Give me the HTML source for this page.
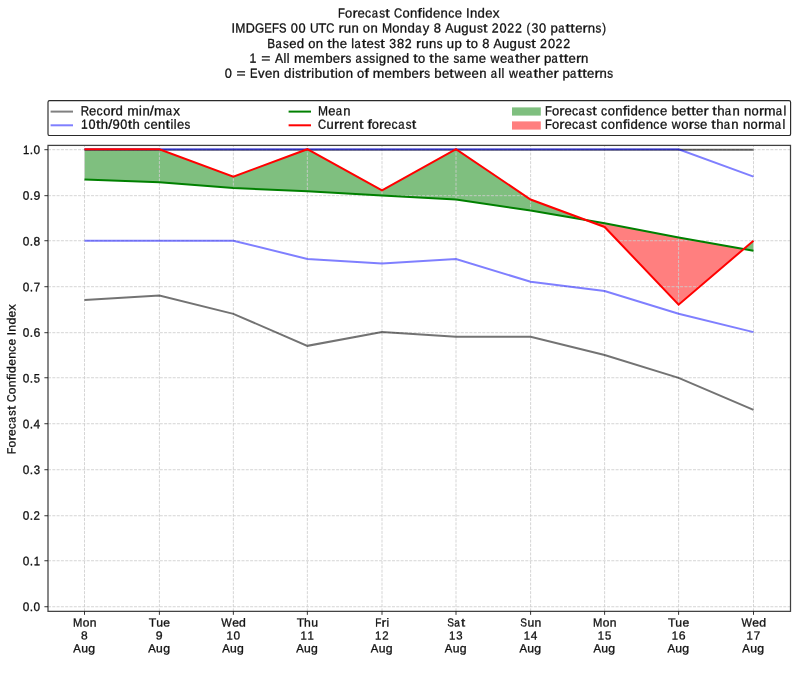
<!DOCTYPE html>
<html><head><meta charset="utf-8"><title>Forecast Confidence Index</title>
<style>
html,body{margin:0;padding:0;background:#fff;}
body{width:800px;height:676px;overflow:hidden;font-family:"Liberation Sans",sans-serif;}
svg{display:block;will-change:transform;}
text{font-family:"Liberation Sans",sans-serif;fill:#111;text-rendering:geometricPrecision;stroke:#111;stroke-width:0.3px;}
.t{font-size:13.1px;}
.k{font-size:12.0px;}
.kx{font-size:11.7px;}
.ky{font-size:12.2px;}
</style></head><body>
<svg width="800" height="676" viewBox="0 0 800 676">
<rect width="800" height="676" fill="#fff"/>
<g class="t" aria-label="Forecast Confidence Index"><text transform="translate(338 17.45) matrix(0.860 0.0006 0 1 0 0)">F</text><text transform="translate(345.06 17.45) matrix(0.986 0.0006 0 1 0 0)">o</text><text transform="translate(352.44 17.45) matrix(1.188 0.0006 0 1 0 0)">r</text><text transform="translate(357.47 17.45) matrix(1.002 0.0006 0 1 0 0)">e</text><text transform="translate(364.99 17.45) matrix(0.931 0.0006 0 1 0 0)">c</text><text transform="translate(371.68 17.45) matrix(0.860 0.0006 0 1 0 0)">a</text><text transform="translate(379.3 17.45) matrix(0.889 0.0006 0 1 0 0)">s</text><text transform="translate(385.37 17.45) matrix(1.240 0.0006 0 1 0 0)">t</text> <text transform="translate(394.03 17.45) matrix(0.861 0.0006 0 1 0 0)">C</text><text transform="translate(402.53 17.45) matrix(0.986 0.0006 0 1 0 0)">o</text><text transform="translate(410.07 17.45) matrix(1.000 0.0006 0 1 0 0)">n</text><text transform="translate(417.59 17.45) matrix(1.218 0.0006 0 1 0 0)">f</text><text transform="translate(422.13 17.45) matrix(0.948 0.0006 0 1 0 0)">i</text><text transform="translate(425.3 17.45) matrix(1.008 0.0006 0 1 0 0)">d</text><text transform="translate(433.01 17.45) matrix(1.002 0.0006 0 1 0 0)">e</text><text transform="translate(440.61 17.45) matrix(1.000 0.0006 0 1 0 0)">n</text><text transform="translate(448.23 17.45) matrix(0.931 0.0006 0 1 0 0)">c</text><text transform="translate(454.87 17.45) matrix(1.002 0.0006 0 1 0 0)">e</text> <text transform="translate(466.1 17.45) matrix(0.981 0.0006 0 1 0 0)">I</text><text transform="translate(469.91 17.45) matrix(1.000 0.0006 0 1 0 0)">n</text><text transform="translate(477.49 17.45) matrix(1.008 0.0006 0 1 0 0)">d</text><text transform="translate(485.2 17.45) matrix(1.002 0.0006 0 1 0 0)">e</text><text transform="translate(492.76 17.45) matrix(1.029 0.0006 0 1 0 0)">x</text></g>
<g class="t" aria-label="IMDGEFS 00 UTC run on Monday 8 August 2022 (30 patterns)"><text transform="translate(231.41 32.6) matrix(0.981 0.0006 0 1 0 0)">I</text><text transform="translate(235.19 32.6) matrix(0.925 0.0006 0 1 0 0)">M</text><text transform="translate(245.63 32.6) matrix(0.960 0.0006 0 1 0 0)">D</text><text transform="translate(254.91 32.6) matrix(0.905 0.0006 0 1 0 0)">G</text><text transform="translate(264.31 32.6) matrix(0.860 0.0006 0 1 0 0)">E</text><text transform="translate(271.98 32.6) matrix(0.860 0.0006 0 1 0 0)">F</text><text transform="translate(279.07 32.6) matrix(0.860 0.0006 0 1 0 0)">S</text> <text transform="translate(290.78 32.6) matrix(0.978 0.0006 0 1 0 0)">0</text><text transform="translate(298.51 32.6) matrix(0.978 0.0006 0 1 0 0)">0</text> <text transform="translate(309.94 32.6) matrix(0.912 0.0006 0 1 0 0)">U</text><text transform="translate(318.37 32.6) matrix(1.012 0.0006 0 1 0 0)">T</text><text transform="translate(326.23 32.6) matrix(0.861 0.0006 0 1 0 0)">C</text> <text transform="translate(338.54 32.6) matrix(1.188 0.0006 0 1 0 0)">r</text><text transform="translate(343.64 32.6) matrix(1.000 0.0006 0 1 0 0)">u</text><text transform="translate(351.4 32.6) matrix(1.000 0.0006 0 1 0 0)">n</text> <text transform="translate(362.85 32.6) matrix(0.986 0.0006 0 1 0 0)">o</text><text transform="translate(370.39 32.6) matrix(1.000 0.0006 0 1 0 0)">n</text> <text transform="translate(381.92 32.6) matrix(0.925 0.0006 0 1 0 0)">M</text><text transform="translate(392.33 32.6) matrix(0.986 0.0006 0 1 0 0)">o</text><text transform="translate(399.87 32.6) matrix(1.000 0.0006 0 1 0 0)">n</text><text transform="translate(407.45 32.6) matrix(1.008 0.0006 0 1 0 0)">d</text><text transform="translate(415.21 32.6) matrix(0.860 0.0006 0 1 0 0)">a</text><text transform="translate(422.83 32.6) matrix(0.996 0.0006 0 1 0 0)">y</text> <text transform="translate(433.81 32.6) matrix(0.988 0.0006 0 1 0 0)">8</text> <text transform="translate(445.21 32.6) matrix(0.934 0.0006 0 1 0 0)">A</text><text transform="translate(453.63 32.6) matrix(1.000 0.0006 0 1 0 0)">u</text><text transform="translate(461.27 32.6) matrix(1.008 0.0006 0 1 0 0)">g</text><text transform="translate(469.05 32.6) matrix(1.000 0.0006 0 1 0 0)">u</text><text transform="translate(476.9 32.6) matrix(0.889 0.0006 0 1 0 0)">s</text><text transform="translate(482.98 32.6) matrix(1.240 0.0006 0 1 0 0)">t</text> <text transform="translate(491.79 32.6) matrix(0.942 0.0006 0 1 0 0)">2</text><text transform="translate(499.55 32.6) matrix(0.978 0.0006 0 1 0 0)">0</text><text transform="translate(507.25 32.6) matrix(0.942 0.0006 0 1 0 0)">2</text><text transform="translate(514.98 32.6) matrix(0.942 0.0006 0 1 0 0)">2</text> <text transform="translate(526.52 32.6) matrix(0.860 0.0006 0 1 0 0)">(</text><text transform="translate(531.5 32.6) matrix(0.939 0.0006 0 1 0 0)">3</text><text transform="translate(539.08 32.6) matrix(0.978 0.0006 0 1 0 0)">0</text> <text transform="translate(550.62 32.6) matrix(1.009 0.0006 0 1 0 0)">p</text><text transform="translate(558.24 32.6) matrix(0.860 0.0006 0 1 0 0)">a</text><text transform="translate(565.61 32.6) matrix(1.240 0.0006 0 1 0 0)">t</text><text transform="translate(570.37 32.6) matrix(1.240 0.0006 0 1 0 0)">t</text><text transform="translate(575.17 32.6) matrix(1.002 0.0006 0 1 0 0)">e</text><text transform="translate(582.6 32.6) matrix(1.188 0.0006 0 1 0 0)">r</text><text transform="translate(587.76 32.6) matrix(1.000 0.0006 0 1 0 0)">n</text><text transform="translate(595.56 32.6) matrix(0.889 0.0006 0 1 0 0)">s</text><text transform="translate(602.33 32.6) matrix(0.860 0.0006 0 1 0 0)">)</text></g>
<g class="t" aria-label="Based on the latest 382 runs up to 8 August 2022"><text transform="translate(267.15 47.95) matrix(0.901 0.0006 0 1 0 0)">B</text><text transform="translate(275.43 47.95) matrix(0.860 0.0006 0 1 0 0)">a</text><text transform="translate(283.04 47.95) matrix(0.889 0.0006 0 1 0 0)">s</text><text transform="translate(289.15 47.95) matrix(1.002 0.0006 0 1 0 0)">e</text><text transform="translate(296.63 47.95) matrix(1.008 0.0006 0 1 0 0)">d</text> <text transform="translate(308.22 47.95) matrix(0.986 0.0006 0 1 0 0)">o</text><text transform="translate(315.76 47.95) matrix(1.000 0.0006 0 1 0 0)">n</text> <text transform="translate(327.16 47.95) matrix(1.240 0.0006 0 1 0 0)">t</text><text transform="translate(332.04 47.95) matrix(1.007 0.0006 0 1 0 0)">h</text><text transform="translate(339.66 47.95) matrix(1.002 0.0006 0 1 0 0)">e</text> <text transform="translate(351.19 47.95) matrix(0.948 0.0006 0 1 0 0)">l</text><text transform="translate(354.43 47.95) matrix(0.860 0.0006 0 1 0 0)">a</text><text transform="translate(361.79 47.95) matrix(1.240 0.0006 0 1 0 0)">t</text><text transform="translate(366.58 47.95) matrix(1.002 0.0006 0 1 0 0)">e</text><text transform="translate(374.28 47.95) matrix(0.889 0.0006 0 1 0 0)">s</text><text transform="translate(380.36 47.95) matrix(1.240 0.0006 0 1 0 0)">t</text> <text transform="translate(389.36 47.95) matrix(0.939 0.0006 0 1 0 0)">3</text><text transform="translate(396.89 47.95) matrix(0.988 0.0006 0 1 0 0)">8</text><text transform="translate(404.63 47.95) matrix(0.942 0.0006 0 1 0 0)">2</text> <text transform="translate(416.02 47.95) matrix(1.188 0.0006 0 1 0 0)">r</text><text transform="translate(421.13 47.95) matrix(1.000 0.0006 0 1 0 0)">u</text><text transform="translate(428.88 47.95) matrix(1.000 0.0006 0 1 0 0)">n</text><text transform="translate(436.69 47.95) matrix(0.889 0.0006 0 1 0 0)">s</text> <text transform="translate(446.73 47.95) matrix(1.000 0.0006 0 1 0 0)">u</text><text transform="translate(454.5 47.95) matrix(1.009 0.0006 0 1 0 0)">p</text> <text transform="translate(465.9 47.95) matrix(1.240 0.0006 0 1 0 0)">t</text><text transform="translate(470.71 47.95) matrix(0.986 0.0006 0 1 0 0)">o</text> <text transform="translate(482.14 47.95) matrix(0.988 0.0006 0 1 0 0)">8</text> <text transform="translate(493.54 47.95) matrix(0.934 0.0006 0 1 0 0)">A</text><text transform="translate(501.96 47.95) matrix(1.000 0.0006 0 1 0 0)">u</text><text transform="translate(509.6 47.95) matrix(1.008 0.0006 0 1 0 0)">g</text><text transform="translate(517.38 47.95) matrix(1.000 0.0006 0 1 0 0)">u</text><text transform="translate(525.23 47.95) matrix(0.889 0.0006 0 1 0 0)">s</text><text transform="translate(531.31 47.95) matrix(1.240 0.0006 0 1 0 0)">t</text> <text transform="translate(540.12 47.95) matrix(0.942 0.0006 0 1 0 0)">2</text><text transform="translate(547.88 47.95) matrix(0.978 0.0006 0 1 0 0)">0</text><text transform="translate(555.58 47.95) matrix(0.942 0.0006 0 1 0 0)">2</text><text transform="translate(563.31 47.95) matrix(0.942 0.0006 0 1 0 0)">2</text></g>
<g class="t" aria-label="1 = All members assigned to the same weather pattern"><text transform="translate(249.58 62.65) matrix(0.934 0.0006 0 1 0 0)">1</text> <text transform="translate(261.29 62.65) matrix(1.195 0.0006 0 1 0 0)">=</text> <text transform="translate(274.88 62.65) matrix(0.934 0.0006 0 1 0 0)">A</text><text transform="translate(283.43 62.65) matrix(0.948 0.0006 0 1 0 0)">l</text><text transform="translate(286.81 62.65) matrix(0.948 0.0006 0 1 0 0)">l</text> <text transform="translate(293.92 62.65) matrix(1.057 0.0006 0 1 0 0)">m</text><text transform="translate(305.69 62.65) matrix(1.002 0.0006 0 1 0 0)">e</text><text transform="translate(313.23 62.65) matrix(1.057 0.0006 0 1 0 0)">m</text><text transform="translate(325.13 62.65) matrix(1.009 0.0006 0 1 0 0)">b</text><text transform="translate(332.71 62.65) matrix(1.002 0.0006 0 1 0 0)">e</text><text transform="translate(340.14 62.65) matrix(1.188 0.0006 0 1 0 0)">r</text><text transform="translate(345.4 62.65) matrix(0.889 0.0006 0 1 0 0)">s</text> <text transform="translate(355.42 62.65) matrix(0.860 0.0006 0 1 0 0)">a</text><text transform="translate(363.04 62.65) matrix(0.889 0.0006 0 1 0 0)">s</text><text transform="translate(369.37 62.65) matrix(0.889 0.0006 0 1 0 0)">s</text><text transform="translate(375.68 62.65) matrix(0.948 0.0006 0 1 0 0)">i</text><text transform="translate(378.86 62.65) matrix(1.008 0.0006 0 1 0 0)">g</text><text transform="translate(386.69 62.65) matrix(1.000 0.0006 0 1 0 0)">n</text><text transform="translate(394.27 62.65) matrix(1.002 0.0006 0 1 0 0)">e</text><text transform="translate(401.74 62.65) matrix(1.008 0.0006 0 1 0 0)">d</text> <text transform="translate(413.28 62.65) matrix(1.240 0.0006 0 1 0 0)">t</text><text transform="translate(418.09 62.65) matrix(0.986 0.0006 0 1 0 0)">o</text> <text transform="translate(429.34 62.65) matrix(1.240 0.0006 0 1 0 0)">t</text><text transform="translate(434.21 62.65) matrix(1.007 0.0006 0 1 0 0)">h</text><text transform="translate(441.84 62.65) matrix(1.002 0.0006 0 1 0 0)">e</text> <text transform="translate(453.4 62.65) matrix(0.889 0.0006 0 1 0 0)">s</text><text transform="translate(459.56 62.65) matrix(0.860 0.0006 0 1 0 0)">a</text><text transform="translate(467.02 62.65) matrix(1.057 0.0006 0 1 0 0)">m</text><text transform="translate(478.79 62.65) matrix(1.002 0.0006 0 1 0 0)">e</text> <text transform="translate(490.54 62.65) matrix(0.937 0.0006 0 1 0 0)">w</text><text transform="translate(500.06 62.65) matrix(1.002 0.0006 0 1 0 0)">e</text><text transform="translate(507.59 62.65) matrix(0.860 0.0006 0 1 0 0)">a</text><text transform="translate(514.95 62.65) matrix(1.240 0.0006 0 1 0 0)">t</text><text transform="translate(519.82 62.65) matrix(1.007 0.0006 0 1 0 0)">h</text><text transform="translate(527.45 62.65) matrix(1.002 0.0006 0 1 0 0)">e</text><text transform="translate(534.88 62.65) matrix(1.188 0.0006 0 1 0 0)">r</text> <text transform="translate(543.92 62.65) matrix(1.009 0.0006 0 1 0 0)">p</text><text transform="translate(551.54 62.65) matrix(0.860 0.0006 0 1 0 0)">a</text><text transform="translate(558.9 62.65) matrix(1.240 0.0006 0 1 0 0)">t</text><text transform="translate(563.67 62.65) matrix(1.240 0.0006 0 1 0 0)">t</text><text transform="translate(568.46 62.65) matrix(1.002 0.0006 0 1 0 0)">e</text><text transform="translate(575.9 62.65) matrix(1.188 0.0006 0 1 0 0)">r</text><text transform="translate(581.06 62.65) matrix(1.000 0.0006 0 1 0 0)">n</text></g>
<g class="t" aria-label="0 = Even distribution of members between all weather patterns"><text transform="translate(224.63 77.85) matrix(0.978 0.0006 0 1 0 0)">0</text> <text transform="translate(236.45 77.85) matrix(1.195 0.0006 0 1 0 0)">=</text> <text transform="translate(250.04 77.85) matrix(0.860 0.0006 0 1 0 0)">E</text><text transform="translate(257.96 77.85) matrix(1.001 0.0006 0 1 0 0)">v</text><text transform="translate(264.95 77.85) matrix(1.002 0.0006 0 1 0 0)">e</text><text transform="translate(272.54 77.85) matrix(1.000 0.0006 0 1 0 0)">n</text> <text transform="translate(283.99 77.85) matrix(1.008 0.0006 0 1 0 0)">d</text><text transform="translate(291.9 77.85) matrix(0.948 0.0006 0 1 0 0)">i</text><text transform="translate(295.29 77.85) matrix(0.889 0.0006 0 1 0 0)">s</text><text transform="translate(301.37 77.85) matrix(1.240 0.0006 0 1 0 0)">t</text><text transform="translate(306.12 77.85) matrix(1.188 0.0006 0 1 0 0)">r</text><text transform="translate(311.36 77.85) matrix(0.948 0.0006 0 1 0 0)">i</text><text transform="translate(314.68 77.85) matrix(1.009 0.0006 0 1 0 0)">b</text><text transform="translate(322.32 77.85) matrix(1.000 0.0006 0 1 0 0)">u</text><text transform="translate(329.92 77.85) matrix(1.240 0.0006 0 1 0 0)">t</text><text transform="translate(334.92 77.85) matrix(0.948 0.0006 0 1 0 0)">i</text><text transform="translate(338.1 77.85) matrix(0.986 0.0006 0 1 0 0)">o</text><text transform="translate(345.64 77.85) matrix(1.000 0.0006 0 1 0 0)">n</text> <text transform="translate(357.1 77.85) matrix(0.986 0.0006 0 1 0 0)">o</text><text transform="translate(364.46 77.85) matrix(1.218 0.0006 0 1 0 0)">f</text> <text transform="translate(372.73 77.85) matrix(1.057 0.0006 0 1 0 0)">m</text><text transform="translate(384.49 77.85) matrix(1.002 0.0006 0 1 0 0)">e</text><text transform="translate(392.04 77.85) matrix(1.057 0.0006 0 1 0 0)">m</text><text transform="translate(403.94 77.85) matrix(1.009 0.0006 0 1 0 0)">b</text><text transform="translate(411.52 77.85) matrix(1.002 0.0006 0 1 0 0)">e</text><text transform="translate(418.95 77.85) matrix(1.188 0.0006 0 1 0 0)">r</text><text transform="translate(424.21 77.85) matrix(0.889 0.0006 0 1 0 0)">s</text> <text transform="translate(434.32 77.85) matrix(1.009 0.0006 0 1 0 0)">b</text><text transform="translate(441.89 77.85) matrix(1.002 0.0006 0 1 0 0)">e</text><text transform="translate(449.34 77.85) matrix(1.240 0.0006 0 1 0 0)">t</text><text transform="translate(454.55 77.85) matrix(0.937 0.0006 0 1 0 0)">w</text><text transform="translate(464.07 77.85) matrix(1.002 0.0006 0 1 0 0)">e</text><text transform="translate(471.54 77.85) matrix(1.002 0.0006 0 1 0 0)">e</text><text transform="translate(479.14 77.85) matrix(1.000 0.0006 0 1 0 0)">n</text> <text transform="translate(490.63 77.85) matrix(0.860 0.0006 0 1 0 0)">a</text><text transform="translate(498.22 77.85) matrix(0.948 0.0006 0 1 0 0)">l</text><text transform="translate(501.6 77.85) matrix(0.948 0.0006 0 1 0 0)">l</text> <text transform="translate(509.06 77.85) matrix(0.937 0.0006 0 1 0 0)">w</text><text transform="translate(518.58 77.85) matrix(1.002 0.0006 0 1 0 0)">e</text><text transform="translate(526.1 77.85) matrix(0.860 0.0006 0 1 0 0)">a</text><text transform="translate(533.47 77.85) matrix(1.240 0.0006 0 1 0 0)">t</text><text transform="translate(538.34 77.85) matrix(1.007 0.0006 0 1 0 0)">h</text><text transform="translate(545.96 77.85) matrix(1.002 0.0006 0 1 0 0)">e</text><text transform="translate(553.39 77.85) matrix(1.188 0.0006 0 1 0 0)">r</text> <text transform="translate(562.43 77.85) matrix(1.009 0.0006 0 1 0 0)">p</text><text transform="translate(570.06 77.85) matrix(0.860 0.0006 0 1 0 0)">a</text><text transform="translate(577.42 77.85) matrix(1.240 0.0006 0 1 0 0)">t</text><text transform="translate(582.18 77.85) matrix(1.240 0.0006 0 1 0 0)">t</text><text transform="translate(586.98 77.85) matrix(1.002 0.0006 0 1 0 0)">e</text><text transform="translate(594.41 77.85) matrix(1.188 0.0006 0 1 0 0)">r</text><text transform="translate(599.57 77.85) matrix(1.000 0.0006 0 1 0 0)">n</text><text transform="translate(607.37 77.85) matrix(0.889 0.0006 0 1 0 0)">s</text></g>
<path d="M84.5 149.2 L159.4 149.2 L159.4 182.13 L84.5 179.38Z M159.4 149.2 L233.35 176.64 L233.35 188.07 L159.4 182.13Z M233.35 176.64 L307.35 149.2 L307.35 191.27 L233.35 188.07Z M307.35 149.2 L382 190.36 L382 195.39 L307.35 191.27Z M382 190.36 L456 149.2 L456 199.5 L382 195.39Z M456 149.2 L530.6 199.5 L530.6 210.48 L456 199.5Z M530.6 199.5 L586.1 220.08 L530.6 210.48Z M743.75 248.99 L753.5 240.66 L753.5 250.72Z" fill="#7fbf7f"/>
<path d="M586.1 220.08 L604.6 226.94 L604.6 223.28Z M604.6 226.94 L678.6 304.68 L678.6 237.46 L604.6 223.28Z M678.6 304.68 L743.75 248.99 L678.6 237.46Z" fill="#ff7f7f"/>
<g stroke="#cdcdcd" stroke-width="0.85" stroke-dasharray="3 1.3" fill="none">
<path d="M84.5 611.35 V145.4"/>
<path d="M159.4 611.35 V145.4"/>
<path d="M233.35 611.35 V145.4"/>
<path d="M307.35 611.35 V145.4"/>
<path d="M382 611.35 V145.4"/>
<path d="M456 611.35 V145.4"/>
<path d="M530.6 611.35 V145.4"/>
<path d="M604.6 611.35 V145.4"/>
<path d="M678.6 611.35 V145.4"/>
<path d="M753.5 611.35 V145.4"/>
<path d="M48 606.74 H790.5"/>
<path d="M48 560.75 H790.5"/>
<path d="M48 515.75 H790.5"/>
<path d="M48 469.72 H790.5"/>
<path d="M48 423.73 H790.5"/>
<path d="M48 377.75 H790.5"/>
<path d="M48 332.7 H790.5"/>
<path d="M48 286.71 H790.5"/>
<path d="M48 240.73 H790.5"/>
<path d="M48 195.68 H790.5"/>
<path d="M48 149.69 H790.5"/>
</g>
<g fill="none" stroke-linejoin="miter" stroke-linecap="butt" stroke-width="2.0">
<polyline points="84.5,300.11 159.4,295.54 233.35,313.83 307.35,345.84 382,332.12 456,336.69 530.6,336.69 604.6,354.99 678.6,377.85 753.5,409.86" stroke="#000" stroke-opacity="0.55"/>
<path d="M84.5 149.69 H753.5" stroke="#000" stroke-opacity="0.6"/>
<polyline points="84.5,240.66 159.4,240.66 233.35,240.66 307.35,258.95 382,263.52 456,258.95 530.6,281.82 604.6,290.96 678.6,313.83 753.5,332.12" stroke="#0000ff" stroke-opacity="0.5"/>
<polyline points="84.5,149.2 159.4,149.2 233.35,149.2 307.35,149.2 382,149.2 456,149.2 530.6,149.2 604.6,149.2 678.6,149.2 753.5,176.64" stroke="#0000ff" stroke-opacity="0.5"/>
<polyline points="84.5,179.38 159.4,182.13 233.35,188.07 307.35,191.27 382,195.39 456,199.5 530.6,210.48 604.6,223.28 678.6,237.46 753.5,250.72" stroke="#008000"/>
<polyline points="84.5,149.2 159.4,149.2 233.35,176.64 307.35,149.2 382,190.36 456,149.2 530.6,199.5 604.6,226.94 678.6,304.68 753.5,240.66" stroke="#ff0000"/>
</g>
<rect x="48" y="145.4" width="742.5" height="465.95" fill="none" stroke="#404040" stroke-width="1.25"/>
<g stroke="#111" stroke-width="0.85">
<path d="M84.5 611.35 v3.5"/>
<path d="M159.4 611.35 v3.5"/>
<path d="M233.35 611.35 v3.5"/>
<path d="M307.35 611.35 v3.5"/>
<path d="M382 611.35 v3.5"/>
<path d="M456 611.35 v3.5"/>
<path d="M530.6 611.35 v3.5"/>
<path d="M604.6 611.35 v3.5"/>
<path d="M678.6 611.35 v3.5"/>
<path d="M753.5 611.35 v3.5"/>
<path d="M48 606.74 h-3.6"/>
<path d="M48 560.75 h-3.6"/>
<path d="M48 515.75 h-3.6"/>
<path d="M48 469.72 h-3.6"/>
<path d="M48 423.73 h-3.6"/>
<path d="M48 377.75 h-3.6"/>
<path d="M48 332.7 h-3.6"/>
<path d="M48 286.71 h-3.6"/>
<path d="M48 240.73 h-3.6"/>
<path d="M48 195.68 h-3.6"/>
<path d="M48 149.69 h-3.6"/>
</g>
<g class="ky" aria-label="0.0"><text transform="translate(22.86 611.05) matrix(0.974 0.0006 0 1 0 0)">0</text><text transform="translate(29.84 611.05) matrix(1.000 0.0006 0 1 0 0)">.</text><text transform="translate(33.61 611.05) matrix(0.974 0.0006 0 1 0 0)">0</text></g>
<g class="ky" aria-label="0.1"><text transform="translate(22.86 565.35) matrix(0.974 0.0006 0 1 0 0)">0</text><text transform="translate(29.84 565.35) matrix(1.000 0.0006 0 1 0 0)">.</text><text transform="translate(33.7 565.35) matrix(0.930 0.0006 0 1 0 0)">1</text></g>
<g class="ky" aria-label="0.2"><text transform="translate(22.86 519.65) matrix(0.974 0.0006 0 1 0 0)">0</text><text transform="translate(29.84 519.65) matrix(1.000 0.0006 0 1 0 0)">.</text><text transform="translate(33.58 519.65) matrix(0.939 0.0006 0 1 0 0)">2</text></g>
<g class="ky" aria-label="0.3"><text transform="translate(22.86 473.95) matrix(0.974 0.0006 0 1 0 0)">0</text><text transform="translate(29.84 473.95) matrix(1.000 0.0006 0 1 0 0)">.</text><text transform="translate(33.75 473.95) matrix(0.935 0.0006 0 1 0 0)">3</text></g>
<g class="ky" aria-label="0.4"><text transform="translate(22.86 428.25) matrix(0.974 0.0006 0 1 0 0)">0</text><text transform="translate(29.84 428.25) matrix(1.000 0.0006 0 1 0 0)">.</text><text transform="translate(33.61 428.25) matrix(0.974 0.0006 0 1 0 0)">4</text></g>
<g class="ky" aria-label="0.5"><text transform="translate(22.86 382.55) matrix(0.974 0.0006 0 1 0 0)">0</text><text transform="translate(29.84 382.55) matrix(1.000 0.0006 0 1 0 0)">.</text><text transform="translate(33.75 382.55) matrix(0.919 0.0006 0 1 0 0)">5</text></g>
<g class="ky" aria-label="0.6"><text transform="translate(22.86 336.85) matrix(0.974 0.0006 0 1 0 0)">0</text><text transform="translate(29.84 336.85) matrix(1.000 0.0006 0 1 0 0)">.</text><text transform="translate(33.49 336.85) matrix(1.008 0.0006 0 1 0 0)">6</text></g>
<g class="ky" aria-label="0.7"><text transform="translate(22.86 291.15) matrix(0.974 0.0006 0 1 0 0)">0</text><text transform="translate(29.84 291.15) matrix(1.000 0.0006 0 1 0 0)">.</text><text transform="translate(33.66 291.15) matrix(0.953 0.0006 0 1 0 0)">7</text></g>
<g class="ky" aria-label="0.8"><text transform="translate(22.86 245.45) matrix(0.974 0.0006 0 1 0 0)">0</text><text transform="translate(29.84 245.45) matrix(1.000 0.0006 0 1 0 0)">.</text><text transform="translate(33.57 245.45) matrix(0.984 0.0006 0 1 0 0)">8</text></g>
<g class="ky" aria-label="0.9"><text transform="translate(22.86 199.75) matrix(0.974 0.0006 0 1 0 0)">0</text><text transform="translate(29.84 199.75) matrix(1.000 0.0006 0 1 0 0)">.</text><text transform="translate(33.46 199.75) matrix(1.006 0.0006 0 1 0 0)">9</text></g>
<g class="ky" aria-label="1.0"><text transform="translate(22.95 154.05) matrix(0.930 0.0006 0 1 0 0)">1</text><text transform="translate(29.84 154.05) matrix(1.000 0.0006 0 1 0 0)">.</text><text transform="translate(33.61 154.05) matrix(0.974 0.0006 0 1 0 0)">0</text></g>
<g class="k" aria-label="Forecast Confidence Index"><text transform="translate(15.5 453.95) matrix(0.0006 -0.860 1 0 0 0)">F</text><text transform="translate(15.5 447.45) matrix(0.0006 -0.998 1 0 0 0)">o</text><text transform="translate(15.5 440.6) matrix(0.0006 -1.203 1 0 0 0)">r</text><text transform="translate(15.5 435.93) matrix(0.0006 -1.014 1 0 0 0)">e</text><text transform="translate(15.5 428.96) matrix(0.0006 -0.942 1 0 0 0)">c</text><text transform="translate(15.5 422.71) matrix(0.0006 -0.860 1 0 0 0)">a</text><text transform="translate(15.5 415.69) matrix(0.0006 -0.900 1 0 0 0)">s</text><text transform="translate(15.5 410.05) matrix(0.0006 -1.255 1 0 0 0)">t</text> <text transform="translate(15.5 402.02) matrix(0.0006 -0.872 1 0 0 0)">C</text><text transform="translate(15.5 394.14) matrix(0.0006 -0.998 1 0 0 0)">o</text><text transform="translate(15.5 387.15) matrix(0.0006 -1.013 1 0 0 0)">n</text><text transform="translate(15.5 380.17) matrix(0.0006 -1.233 1 0 0 0)">f</text><text transform="translate(15.5 375.96) matrix(0.0006 -0.960 1 0 0 0)">i</text><text transform="translate(15.5 373.01) matrix(0.0006 -1.021 1 0 0 0)">d</text><text transform="translate(15.5 365.86) matrix(0.0006 -1.014 1 0 0 0)">e</text><text transform="translate(15.5 358.82) matrix(0.0006 -1.013 1 0 0 0)">n</text><text transform="translate(15.5 351.75) matrix(0.0006 -0.942 1 0 0 0)">c</text><text transform="translate(15.5 345.59) matrix(0.0006 -1.014 1 0 0 0)">e</text> <text transform="translate(15.5 335.17) matrix(0.0006 -0.993 1 0 0 0)">I</text><text transform="translate(15.5 331.64) matrix(0.0006 -1.013 1 0 0 0)">n</text><text transform="translate(15.5 324.6) matrix(0.0006 -1.021 1 0 0 0)">d</text><text transform="translate(15.5 317.45) matrix(0.0006 -1.014 1 0 0 0)">e</text><text transform="translate(15.5 310.44) matrix(0.0006 -1.042 1 0 0 0)">x</text></g>
<g class="kx" aria-label="Mon"><text transform="translate(73 626.45) matrix(0.960 0.0006 0 1 0 0)">M</text><text transform="translate(82.66 626.45) matrix(1.024 0.0006 0 1 0 0)">o</text><text transform="translate(89.65 626.45) matrix(1.039 0.0006 0 1 0 0)">n</text></g>
<g class="kx" aria-label="8"><text transform="translate(81.06 639.4) matrix(1.026 0.0006 0 1 0 0)">8</text></g>
<g class="kx" aria-label="Aug"><text transform="translate(73.36 652.3) matrix(0.970 0.0006 0 1 0 0)">A</text><text transform="translate(81.17 652.3) matrix(1.039 0.0006 0 1 0 0)">u</text><text transform="translate(88.26 652.3) matrix(1.047 0.0006 0 1 0 0)">g</text></g>
<g class="kx" aria-label="Tue"><text transform="translate(148.81 626.45) matrix(1.051 0.0006 0 1 0 0)">T</text><text transform="translate(156.17 626.45) matrix(1.039 0.0006 0 1 0 0)">u</text><text transform="translate(163.25 626.45) matrix(1.040 0.0006 0 1 0 0)">e</text></g>
<g class="kx" aria-label="9"><text transform="translate(155.85 639.4) matrix(1.049 0.0006 0 1 0 0)">9</text></g>
<g class="kx" aria-label="Aug"><text transform="translate(148.26 652.3) matrix(0.970 0.0006 0 1 0 0)">A</text><text transform="translate(156.07 652.3) matrix(1.039 0.0006 0 1 0 0)">u</text><text transform="translate(163.16 652.3) matrix(1.047 0.0006 0 1 0 0)">g</text></g>
<g class="kx" aria-label="Wed"><text transform="translate(221.26 626.45) matrix(0.950 0.0006 0 1 0 0)">W</text><text transform="translate(232.18 626.45) matrix(1.040 0.0006 0 1 0 0)">e</text><text transform="translate(239.12 626.45) matrix(1.047 0.0006 0 1 0 0)">d</text></g>
<g class="kx" aria-label="10"><text transform="translate(226.45 639.4) matrix(0.970 0.0006 0 1 0 0)">1</text><text transform="translate(233.53 639.4) matrix(1.015 0.0006 0 1 0 0)">0</text></g>
<g class="kx" aria-label="Aug"><text transform="translate(222.21 652.3) matrix(0.970 0.0006 0 1 0 0)">A</text><text transform="translate(230.02 652.3) matrix(1.039 0.0006 0 1 0 0)">u</text><text transform="translate(237.11 652.3) matrix(1.047 0.0006 0 1 0 0)">g</text></g>
<g class="kx" aria-label="Thu"><text transform="translate(296.66 626.45) matrix(1.051 0.0006 0 1 0 0)">T</text><text transform="translate(304.02 626.45) matrix(1.046 0.0006 0 1 0 0)">h</text><text transform="translate(311.16 626.45) matrix(1.039 0.0006 0 1 0 0)">u</text></g>
<g class="kx" aria-label="11"><text transform="translate(300.45 639.4) matrix(0.970 0.0006 0 1 0 0)">1</text><text transform="translate(307.62 639.4) matrix(0.970 0.0006 0 1 0 0)">1</text></g>
<g class="kx" aria-label="Aug"><text transform="translate(296.21 652.3) matrix(0.970 0.0006 0 1 0 0)">A</text><text transform="translate(304.02 652.3) matrix(1.039 0.0006 0 1 0 0)">u</text><text transform="translate(311.11 652.3) matrix(1.047 0.0006 0 1 0 0)">g</text></g>
<g class="kx" aria-label="Fri"><text transform="translate(375.26 626.45) matrix(0.860 0.0006 0 1 0 0)">F</text><text transform="translate(381.62 626.45) matrix(1.234 0.0006 0 1 0 0)">r</text><text transform="translate(386.48 626.45) matrix(0.985 0.0006 0 1 0 0)">i</text></g>
<g class="kx" aria-label="12"><text transform="translate(375.1 639.4) matrix(0.970 0.0006 0 1 0 0)">1</text><text transform="translate(382.15 639.4) matrix(0.979 0.0006 0 1 0 0)">2</text></g>
<g class="kx" aria-label="Aug"><text transform="translate(370.86 652.3) matrix(0.970 0.0006 0 1 0 0)">A</text><text transform="translate(378.67 652.3) matrix(1.039 0.0006 0 1 0 0)">u</text><text transform="translate(385.76 652.3) matrix(1.047 0.0006 0 1 0 0)">g</text></g>
<g class="kx" aria-label="Sat"><text transform="translate(447.24 626.45) matrix(0.860 0.0006 0 1 0 0)">S</text><text transform="translate(454.36 626.45) matrix(0.866 0.0006 0 1 0 0)">a</text><text transform="translate(461.1 626.45) matrix(1.287 0.0006 0 1 0 0)">t</text></g>
<g class="kx" aria-label="13"><text transform="translate(449.1 639.4) matrix(0.970 0.0006 0 1 0 0)">1</text><text transform="translate(456.32 639.4) matrix(0.975 0.0006 0 1 0 0)">3</text></g>
<g class="kx" aria-label="Aug"><text transform="translate(444.86 652.3) matrix(0.970 0.0006 0 1 0 0)">A</text><text transform="translate(452.67 652.3) matrix(1.039 0.0006 0 1 0 0)">u</text><text transform="translate(459.76 652.3) matrix(1.047 0.0006 0 1 0 0)">g</text></g>
<g class="kx" aria-label="Sun"><text transform="translate(520.36 626.45) matrix(0.860 0.0006 0 1 0 0)">S</text><text transform="translate(527.4 626.45) matrix(1.039 0.0006 0 1 0 0)">u</text><text transform="translate(534.59 626.45) matrix(1.039 0.0006 0 1 0 0)">n</text></g>
<g class="kx" aria-label="14"><text transform="translate(523.7 639.4) matrix(0.970 0.0006 0 1 0 0)">1</text><text transform="translate(530.78 639.4) matrix(1.016 0.0006 0 1 0 0)">4</text></g>
<g class="kx" aria-label="Aug"><text transform="translate(519.46 652.3) matrix(0.970 0.0006 0 1 0 0)">A</text><text transform="translate(527.27 652.3) matrix(1.039 0.0006 0 1 0 0)">u</text><text transform="translate(534.36 652.3) matrix(1.047 0.0006 0 1 0 0)">g</text></g>
<g class="kx" aria-label="Mon"><text transform="translate(593.1 626.45) matrix(0.960 0.0006 0 1 0 0)">M</text><text transform="translate(602.76 626.45) matrix(1.024 0.0006 0 1 0 0)">o</text><text transform="translate(609.75 626.45) matrix(1.039 0.0006 0 1 0 0)">n</text></g>
<g class="kx" aria-label="15"><text transform="translate(597.7 639.4) matrix(0.970 0.0006 0 1 0 0)">1</text><text transform="translate(604.92 639.4) matrix(0.958 0.0006 0 1 0 0)">5</text></g>
<g class="kx" aria-label="Aug"><text transform="translate(593.46 652.3) matrix(0.970 0.0006 0 1 0 0)">A</text><text transform="translate(601.27 652.3) matrix(1.039 0.0006 0 1 0 0)">u</text><text transform="translate(608.36 652.3) matrix(1.047 0.0006 0 1 0 0)">g</text></g>
<g class="kx" aria-label="Tue"><text transform="translate(668.01 626.45) matrix(1.051 0.0006 0 1 0 0)">T</text><text transform="translate(675.37 626.45) matrix(1.039 0.0006 0 1 0 0)">u</text><text transform="translate(682.45 626.45) matrix(1.040 0.0006 0 1 0 0)">e</text></g>
<g class="kx" aria-label="16"><text transform="translate(671.7 639.4) matrix(0.970 0.0006 0 1 0 0)">1</text><text transform="translate(678.66 639.4) matrix(1.051 0.0006 0 1 0 0)">6</text></g>
<g class="kx" aria-label="Aug"><text transform="translate(667.46 652.3) matrix(0.970 0.0006 0 1 0 0)">A</text><text transform="translate(675.27 652.3) matrix(1.039 0.0006 0 1 0 0)">u</text><text transform="translate(682.36 652.3) matrix(1.047 0.0006 0 1 0 0)">g</text></g>
<g class="kx" aria-label="Wed"><text transform="translate(741.41 626.45) matrix(0.950 0.0006 0 1 0 0)">W</text><text transform="translate(752.33 626.45) matrix(1.040 0.0006 0 1 0 0)">e</text><text transform="translate(759.27 626.45) matrix(1.047 0.0006 0 1 0 0)">d</text></g>
<g class="kx" aria-label="17"><text transform="translate(746.6 639.4) matrix(0.970 0.0006 0 1 0 0)">1</text><text transform="translate(753.73 639.4) matrix(0.993 0.0006 0 1 0 0)">7</text></g>
<g class="kx" aria-label="Aug"><text transform="translate(742.36 652.3) matrix(0.970 0.0006 0 1 0 0)">A</text><text transform="translate(750.17 652.3) matrix(1.039 0.0006 0 1 0 0)">u</text><text transform="translate(757.26 652.3) matrix(1.047 0.0006 0 1 0 0)">g</text></g>
<rect x="48" y="100.6" width="742.6" height="34.9" rx="1.6" fill="#fff" stroke="#2a2a2a" stroke-width="1.15"/>
<g fill="none" stroke-width="2">
<path d="M50.6 111.6 H73" stroke="#808080"/>
<path d="M50.6 125.3 H73" stroke="#0000ff" stroke-opacity="0.5"/>
<path d="M288.6 111.6 H311" stroke="#008000"/>
<path d="M288.6 125.3 H311" stroke="#ff0000"/>
</g>
<rect x="512" y="107.4" width="28.8" height="8.2" fill="#7fbf7f"/>
<rect x="512" y="121.4" width="28.8" height="8.2" fill="#ff7f7f"/>
<g class="t" aria-label="Record min/max"><text transform="translate(80.84 115.2) matrix(0.883 0.0006 0 1 0 0)">R</text><text transform="translate(89.12 115.2) matrix(0.998 0.0006 0 1 0 0)">e</text><text transform="translate(96.6 115.2) matrix(0.927 0.0006 0 1 0 0)">c</text><text transform="translate(103.23 115.2) matrix(0.982 0.0006 0 1 0 0)">o</text><text transform="translate(110.58 115.2) matrix(1.183 0.0006 0 1 0 0)">r</text><text transform="translate(115.6 115.2) matrix(1.004 0.0006 0 1 0 0)">d</text> <text transform="translate(127.19 115.2) matrix(1.052 0.0006 0 1 0 0)">m</text><text transform="translate(139.11 115.2) matrix(0.944 0.0006 0 1 0 0)">i</text><text transform="translate(142.39 115.2) matrix(0.996 0.0006 0 1 0 0)">n</text><text transform="translate(149.83 115.2) matrix(1.120 0.0006 0 1 0 0)">/</text><text transform="translate(154.09 115.2) matrix(1.052 0.0006 0 1 0 0)">m</text><text transform="translate(165.84 115.2) matrix(0.860 0.0006 0 1 0 0)">a</text><text transform="translate(173.3 115.2) matrix(1.025 0.0006 0 1 0 0)">x</text></g>
<g class="t" aria-label="10th/90th centiles"><text transform="translate(81 128.85) matrix(0.925 0.0006 0 1 0 0)">1</text><text transform="translate(88.55 128.85) matrix(0.968 0.0006 0 1 0 0)">0</text><text transform="translate(95.99 128.85) matrix(1.227 0.0006 0 1 0 0)">t</text><text transform="translate(100.81 128.85) matrix(0.997 0.0006 0 1 0 0)">h</text><text transform="translate(108.25 128.85) matrix(1.114 0.0006 0 1 0 0)">/</text><text transform="translate(112.45 128.85) matrix(1.000 0.0006 0 1 0 0)">9</text><text transform="translate(120.25 128.85) matrix(0.968 0.0006 0 1 0 0)">0</text><text transform="translate(127.69 128.85) matrix(1.227 0.0006 0 1 0 0)">t</text><text transform="translate(132.51 128.85) matrix(0.997 0.0006 0 1 0 0)">h</text> <text transform="translate(143.93 128.85) matrix(0.921 0.0006 0 1 0 0)">c</text><text transform="translate(150.5 128.85) matrix(0.992 0.0006 0 1 0 0)">e</text><text transform="translate(158.02 128.85) matrix(0.990 0.0006 0 1 0 0)">n</text><text transform="translate(165.49 128.85) matrix(1.227 0.0006 0 1 0 0)">t</text><text transform="translate(170.44 128.85) matrix(0.939 0.0006 0 1 0 0)">i</text><text transform="translate(173.78 128.85) matrix(0.939 0.0006 0 1 0 0)">l</text><text transform="translate(176.93 128.85) matrix(0.992 0.0006 0 1 0 0)">e</text><text transform="translate(184.55 128.85) matrix(0.880 0.0006 0 1 0 0)">s</text></g>
<g class="t" aria-label="Mean"><text transform="translate(318 115.2) matrix(0.918 0.0006 0 1 0 0)">M</text><text transform="translate(328.32 115.2) matrix(0.994 0.0006 0 1 0 0)">e</text><text transform="translate(335.76 115.2) matrix(0.860 0.0006 0 1 0 0)">a</text><text transform="translate(343.25 115.2) matrix(0.993 0.0006 0 1 0 0)">n</text></g>
<g class="t" aria-label="Current forecast"><text transform="translate(317.88 128.85) matrix(0.860 0.0006 0 1 0 0)">C</text><text transform="translate(326.4 128.85) matrix(0.993 0.0006 0 1 0 0)">u</text><text transform="translate(333.93 128.85) matrix(1.180 0.0006 0 1 0 0)">r</text><text transform="translate(338.89 128.85) matrix(1.180 0.0006 0 1 0 0)">r</text><text transform="translate(343.89 128.85) matrix(0.994 0.0006 0 1 0 0)">e</text><text transform="translate(351.43 128.85) matrix(0.993 0.0006 0 1 0 0)">n</text><text transform="translate(358.92 128.85) matrix(1.230 0.0006 0 1 0 0)">t</text> <text transform="translate(367.46 128.85) matrix(1.209 0.0006 0 1 0 0)">f</text><text transform="translate(371.78 128.85) matrix(0.979 0.0006 0 1 0 0)">o</text><text transform="translate(379.1 128.85) matrix(1.180 0.0006 0 1 0 0)">r</text><text transform="translate(384.1 128.85) matrix(0.994 0.0006 0 1 0 0)">e</text><text transform="translate(391.56 128.85) matrix(0.924 0.0006 0 1 0 0)">c</text><text transform="translate(398.18 128.85) matrix(0.860 0.0006 0 1 0 0)">a</text><text transform="translate(405.76 128.85) matrix(0.882 0.0006 0 1 0 0)">s</text><text transform="translate(411.79 128.85) matrix(1.230 0.0006 0 1 0 0)">t</text></g>
<g class="t" aria-label="Forecast confidence better than normal"><text transform="translate(544.91 115.2) matrix(0.860 0.0006 0 1 0 0)">F</text><text transform="translate(551.97 115.2) matrix(0.986 0.0006 0 1 0 0)">o</text><text transform="translate(559.34 115.2) matrix(1.188 0.0006 0 1 0 0)">r</text><text transform="translate(564.38 115.2) matrix(1.002 0.0006 0 1 0 0)">e</text><text transform="translate(571.9 115.2) matrix(0.931 0.0006 0 1 0 0)">c</text><text transform="translate(578.59 115.2) matrix(0.860 0.0006 0 1 0 0)">a</text><text transform="translate(586.2 115.2) matrix(0.889 0.0006 0 1 0 0)">s</text><text transform="translate(592.28 115.2) matrix(1.240 0.0006 0 1 0 0)">t</text> <text transform="translate(600.98 115.2) matrix(0.931 0.0006 0 1 0 0)">c</text><text transform="translate(607.63 115.2) matrix(0.986 0.0006 0 1 0 0)">o</text><text transform="translate(615.17 115.2) matrix(1.000 0.0006 0 1 0 0)">n</text><text transform="translate(622.69 115.2) matrix(1.218 0.0006 0 1 0 0)">f</text><text transform="translate(627.23 115.2) matrix(0.948 0.0006 0 1 0 0)">i</text><text transform="translate(630.41 115.2) matrix(1.008 0.0006 0 1 0 0)">d</text><text transform="translate(638.12 115.2) matrix(1.002 0.0006 0 1 0 0)">e</text><text transform="translate(645.71 115.2) matrix(1.000 0.0006 0 1 0 0)">n</text><text transform="translate(653.33 115.2) matrix(0.931 0.0006 0 1 0 0)">c</text><text transform="translate(659.97 115.2) matrix(1.002 0.0006 0 1 0 0)">e</text> <text transform="translate(671.45 115.2) matrix(1.009 0.0006 0 1 0 0)">b</text><text transform="translate(679.02 115.2) matrix(1.002 0.0006 0 1 0 0)">e</text><text transform="translate(686.46 115.2) matrix(1.240 0.0006 0 1 0 0)">t</text><text transform="translate(691.23 115.2) matrix(1.240 0.0006 0 1 0 0)">t</text><text transform="translate(696.03 115.2) matrix(1.002 0.0006 0 1 0 0)">e</text><text transform="translate(703.46 115.2) matrix(1.188 0.0006 0 1 0 0)">r</text> <text transform="translate(712.33 115.2) matrix(1.240 0.0006 0 1 0 0)">t</text><text transform="translate(717.2 115.2) matrix(1.007 0.0006 0 1 0 0)">h</text><text transform="translate(724.87 115.2) matrix(0.860 0.0006 0 1 0 0)">a</text><text transform="translate(732.39 115.2) matrix(1.000 0.0006 0 1 0 0)">n</text> <text transform="translate(743.95 115.2) matrix(1.000 0.0006 0 1 0 0)">n</text><text transform="translate(751.55 115.2) matrix(0.986 0.0006 0 1 0 0)">o</text><text transform="translate(758.92 115.2) matrix(1.188 0.0006 0 1 0 0)">r</text><text transform="translate(764.03 115.2) matrix(1.057 0.0006 0 1 0 0)">m</text><text transform="translate(775.85 115.2) matrix(0.860 0.0006 0 1 0 0)">a</text><text transform="translate(783.44 115.2) matrix(0.948 0.0006 0 1 0 0)">l</text></g>
<g class="t" aria-label="Forecast confidence worse than normal"><text transform="translate(544.91 128.85) matrix(0.860 0.0006 0 1 0 0)">F</text><text transform="translate(551.97 128.85) matrix(0.986 0.0006 0 1 0 0)">o</text><text transform="translate(559.34 128.85) matrix(1.188 0.0006 0 1 0 0)">r</text><text transform="translate(564.38 128.85) matrix(1.002 0.0006 0 1 0 0)">e</text><text transform="translate(571.9 128.85) matrix(0.931 0.0006 0 1 0 0)">c</text><text transform="translate(578.59 128.85) matrix(0.860 0.0006 0 1 0 0)">a</text><text transform="translate(586.2 128.85) matrix(0.889 0.0006 0 1 0 0)">s</text><text transform="translate(592.28 128.85) matrix(1.240 0.0006 0 1 0 0)">t</text> <text transform="translate(600.98 128.85) matrix(0.931 0.0006 0 1 0 0)">c</text><text transform="translate(607.63 128.85) matrix(0.986 0.0006 0 1 0 0)">o</text><text transform="translate(615.17 128.85) matrix(1.000 0.0006 0 1 0 0)">n</text><text transform="translate(622.69 128.85) matrix(1.218 0.0006 0 1 0 0)">f</text><text transform="translate(627.23 128.85) matrix(0.948 0.0006 0 1 0 0)">i</text><text transform="translate(630.41 128.85) matrix(1.008 0.0006 0 1 0 0)">d</text><text transform="translate(638.12 128.85) matrix(1.002 0.0006 0 1 0 0)">e</text><text transform="translate(645.71 128.85) matrix(1.000 0.0006 0 1 0 0)">n</text><text transform="translate(653.33 128.85) matrix(0.931 0.0006 0 1 0 0)">c</text><text transform="translate(659.97 128.85) matrix(1.002 0.0006 0 1 0 0)">e</text> <text transform="translate(671.73 128.85) matrix(0.937 0.0006 0 1 0 0)">w</text><text transform="translate(681.26 128.85) matrix(0.986 0.0006 0 1 0 0)">o</text><text transform="translate(688.64 128.85) matrix(1.188 0.0006 0 1 0 0)">r</text><text transform="translate(693.9 128.85) matrix(0.889 0.0006 0 1 0 0)">s</text><text transform="translate(700.01 128.85) matrix(1.002 0.0006 0 1 0 0)">e</text> <text transform="translate(711.31 128.85) matrix(1.240 0.0006 0 1 0 0)">t</text><text transform="translate(716.18 128.85) matrix(1.007 0.0006 0 1 0 0)">h</text><text transform="translate(723.86 128.85) matrix(0.860 0.0006 0 1 0 0)">a</text><text transform="translate(731.37 128.85) matrix(1.000 0.0006 0 1 0 0)">n</text> <text transform="translate(742.94 128.85) matrix(1.000 0.0006 0 1 0 0)">n</text><text transform="translate(750.53 128.85) matrix(0.986 0.0006 0 1 0 0)">o</text><text transform="translate(757.91 128.85) matrix(1.188 0.0006 0 1 0 0)">r</text><text transform="translate(763.02 128.85) matrix(1.057 0.0006 0 1 0 0)">m</text><text transform="translate(774.83 128.85) matrix(0.860 0.0006 0 1 0 0)">a</text><text transform="translate(782.42 128.85) matrix(0.948 0.0006 0 1 0 0)">l</text></g>
</svg></body></html>
